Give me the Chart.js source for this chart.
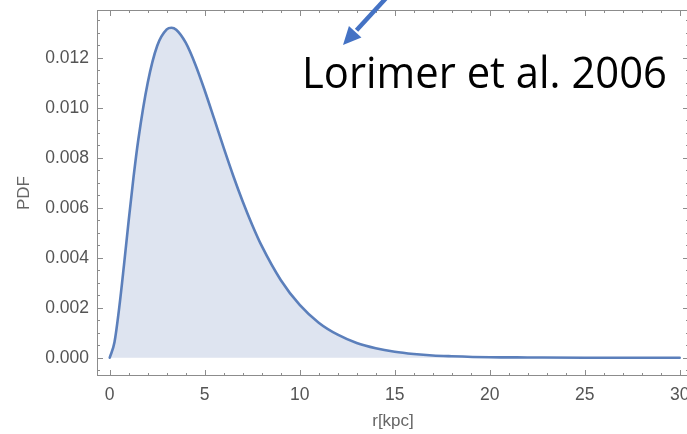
<!DOCTYPE html>
<html lang="en">

<head>
    <meta charset="UTF-8">
    <title>Lorimer PDF</title>
    <script src="https://cdn.jsdelivr.net/npm/chart.js"></script>
    <style>
        body {
            margin: 0;
            background: #fff;
            overflow: hidden;
        }

        canvas {
            display: block;
        }
    </style>
</head>

<body>
    <!-- slightly wider than the window: the right frame edge sits just off the picture -->
    <canvas id="pdf-chart" width="690" height="434"></canvas>

    <script>
        // r in kpc and the PDF
        const rValues = [0, 0.25, 0.5, 0.75, 1, 1.25, 1.5, 2, 2.5, 3, 3.25, 3.5, 4, 4.5, 5, 5.5, 6, 6.5, 7, 7.5, 8, 9, 10, 11, 12, 13, 14, 15, 16, 17, 18, 20, 22, 25, 30];
        const pdfValues = [0, 0.00062, 0.002, 0.0037, 0.0055, 0.0072, 0.0087, 0.0110, 0.01248, 0.01313, 0.0132, 0.01312, 0.0126, 0.01174, 0.01069, 0.00955, 0.00839, 0.00728, 0.00625, 0.00531, 0.00447, 0.00311, 0.00211, 0.0014, 0.00092, 0.00059, 0.00038, 0.00024, 0.00015, 0.00009, 0.00006, 0.00002, 0.00001, 0, 0];

        const xTicks = [0, 5, 10, 15, 20, 25, 30];
        const yTicks = [0, 0.002, 0.004, 0.006, 0.008, 0.010, 0.012];

        const annotationText = "Lorimer et al. 2006";

        const lineColor = '#5b7fbb';
        const fillColor = '#dee4f0';
        const frameColor = '#8c8c8c';

        // Mathematica style frame with ticks pointing inward on all four sides
        const framePlugin = {
            id: 'frame',
            afterDatasetsDraw(chart) {
                const ctx = chart.ctx;
                const a = chart.chartArea;
                const xs = chart.scales.x;
                const ys = chart.scales.y;
                ctx.save();
                ctx.strokeStyle = frameColor;
                ctx.lineWidth = 1;
                ctx.strokeRect(a.left + 0.5, a.top + 0.5, a.right - a.left - 1, a.bottom - a.top - 1);

                ctx.beginPath();
                for (let v = 0; v <= 30; v += 1) {
                    const px = Math.round(xs.getPixelForValue(v)) + 0.5;
                    const len = v % 5 === 0 ? 6 : 3;
                    ctx.moveTo(px, a.bottom);
                    ctx.lineTo(px, a.bottom - len);
                    ctx.moveTo(px, a.top);
                    ctx.lineTo(px, a.top + len);
                }
                for (let i = -1; i <= 27; i++) {
                    const v = i * 0.0005;
                    const py = Math.round(ys.getPixelForValue(v)) + 0.5;
                    const len = i % 4 === 0 ? 6 : 3;
                    ctx.moveTo(a.left, py);
                    ctx.lineTo(a.left + len, py);
                    ctx.moveTo(a.right, py);
                    ctx.lineTo(a.right - len, py);
                }
                ctx.stroke();
                ctx.restore();
            },
            afterDraw(chart) {
                const ctx = chart.ctx;
                ctx.save();
                // arrow coming in from the top edge
                const x0 = 388, y0 = -4, tx = 343, ty = 45;
                const dx = x0 - tx, dy = y0 - ty;
                const d = Math.hypot(dx, dy);
                const ux = dx / d, uy = dy / d;
                const headLen = 18, headHalf = 8.5;
                const bx = tx + ux * headLen, by = ty + uy * headLen;
                ctx.strokeStyle = '#4472c4';
                ctx.fillStyle = '#4472c4';
                ctx.lineWidth = 4.5;
                ctx.beginPath();
                ctx.moveTo(x0, y0);
                ctx.lineTo(bx + ux * 2, by + uy * 2);
                ctx.stroke();
                ctx.beginPath();
                ctx.moveTo(tx, ty);
                ctx.lineTo(bx - uy * headHalf, by + ux * headHalf);
                ctx.lineTo(bx + uy * headHalf, by - ux * headHalf);
                ctx.closePath();
                ctx.fill();

                // label, squeezed to the width of the original Calibri text
                ctx.font = '44px "Open Sans"';
                ctx.fillStyle = '#000';
                ctx.textBaseline = 'alphabetic';
                const w = ctx.measureText(annotationText).width;
                ctx.translate(302, 88);
                ctx.scale(365 / w, 1);
                ctx.fillText(annotationText, 0, 0);
                ctx.restore();
            }
        };

        const tickFont = { family: '"Liberation Sans", Arial, sans-serif', size: 17.5 };
        const titleFont = { family: '"Liberation Sans", Arial, sans-serif', size: 17 };

        function noPad(s) {
            s.paddingTop = 0;
            s.paddingBottom = 0;
            s.paddingLeft = 0;
            s.paddingRight = 0;
        }

        new Chart(document.getElementById("pdf-chart"), {
            type: 'line',
            data: {
                datasets: [{
                    data: rValues.map((r, i) => ({ x: r, y: pdfValues[i] })),
                    borderColor: lineColor,
                    backgroundColor: fillColor,
                    borderWidth: 2.6,
                    borderCapStyle: 'round',
                    fill: 'origin',
                    pointRadius: 0,
                    cubicInterpolationMode: 'monotone'
                }]
            },
            options: {
                responsive: false,
                animation: false,
                layout: { padding: { top: 10, right: 1, left: 0, bottom: 0 } },
                plugins: { legend: { display: false }, tooltip: { enabled: false } },
                scales: {
                    x: {
                        type: 'linear',
                        min: -0.67,
                        max: 30.49,
                        grid: { display: false, drawTicks: false },
                        border: { display: false },
                        afterBuildTicks: s => { s.ticks = xTicks.map(v => ({ value: v })); },
                        afterFit: s => { s.height = 58; noPad(s); },
                        ticks: { color: '#555', font: tickFont, padding: 9, maxRotation: 0 },
                        title: { display: true, text: 'r[kpc]', color: '#666', font: titleFont, padding: { top: 0, bottom: 2 } }
                    },
                    y: {
                        type: 'linear',
                        min: -0.000732,
                        max: 0.013908,
                        grid: { display: false, drawTicks: false },
                        border: { display: false },
                        afterBuildTicks: s => { s.ticks = yTicks.map(v => ({ value: v })); },
                        afterFit: s => { s.width = 97; noPad(s); },
                        ticks: { color: '#555', font: tickFont, padding: 8, callback: v => v.toFixed(3) },
                        title: { display: true, text: 'PDF', color: '#666', font: titleFont, padding: { top: 14, bottom: 0 } }
                    }
                }
            },
            plugins: [framePlugin]
        });
    </script>
</body>

</html>
